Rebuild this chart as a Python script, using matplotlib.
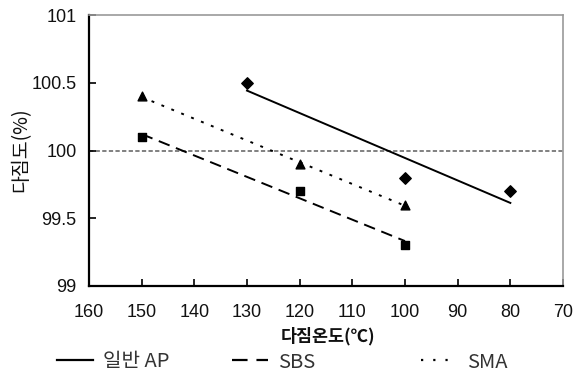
import numpy as np
import matplotlib
matplotlib.use("Agg")
import matplotlib.pyplot as plt
from matplotlib.lines import Line2D

plt.rcParams['font.family'] = ['Noto Sans CJK KR', 'DejaVu Sans']

# compaction temperature (°C) and degree of compaction (%)
ap_temp = [130, 100, 80]
ap_vals = [100.5, 99.8, 99.7]
sbs_temp = [150, 120, 100]
sbs_vals = [100.1, 99.7, 99.3]
sma_temp = [150, 120, 100]
sma_vals = [100.4, 99.9, 99.6]

series_names = ['일반 AP', 'SBS', 'SMA']
x_ticks = [160, 150, 140, 130, 120, 110, 100, 90, 80, 70]
y_ticks = [99, 99.5, 100, 100.5, 101]
y_tick_labels = ['99', '99.5', '100', '100.5', '101']

fig = plt.figure(figsize=(5.86, 3.76), dpi=100)
ax = fig.add_axes([89 / 586, 1 - 286 / 376, (563 - 89) / 586, (286 - 15) / 376])

ax.set_xlim(160, 70)
ax.set_ylim(99, 101)

ax.axhline(100, color='#808080', lw=1.4, ls=(0, (2.2, 1.2)), zorder=1)


def fit_line(xs, ys, style):
    k, b = np.polyfit(xs, ys, 1)
    xx = np.array([max(xs), min(xs)])
    ax.plot(xx, k * xx + b, color='black', lw=1.4, ls=style, zorder=2)


fit_line(ap_temp, ap_vals, '-')
fit_line(sbs_temp, sbs_vals, (0, (6, 3.5)))
fit_line(sma_temp, sma_vals, (0, (1.5, 4)))

ax.scatter(ap_temp, ap_vals, marker='D', s=34, color='black', zorder=3)
ax.scatter(sbs_temp, sbs_vals, marker='s', s=32, color='black', zorder=3)
ax.scatter(sma_temp, sma_vals, marker='^', s=40, color='black', zorder=3)

ax.set_xticks(x_ticks)
ax.set_xticklabels([str(t) for t in x_ticks])
ax.set_yticks(y_ticks)
ax.set_yticklabels(y_tick_labels)
ax.tick_params(axis='both', direction='in', length=5, width=1.2, labelsize=13, colors='black')
ax.tick_params(axis='x', pad=13)
ax.tick_params(axis='y', pad=9)
for lab in ax.get_xticklabels() + ax.get_yticklabels():
    lab.set_fontfamily(['Liberation Sans Narrow', 'Liberation Sans', 'DejaVu Sans'])
    lab.set_color('#111111')

for side in ['left', 'bottom']:
    ax.spines[side].set_color('black')
    ax.spines[side].set_linewidth(1.6)
for side in ['top', 'right']:
    ax.spines[side].set_color('#999999')
    ax.spines[side].set_linewidth(1.2)

fig.text(328 / 586, 1 - 336 / 376, '다짐온도(℃)', ha='center', va='center',
         fontsize=12.5, fontweight='bold', color='#111111')
fig.text(21 / 586, 1 - 150 / 376, '다짐도(%)', ha='center', va='center',
         rotation=90, fontsize=14, color='#111111')

handles = [
    Line2D([], [], color='black', lw=1.6, ls='-'),
    Line2D([], [], color='black', lw=1.6, ls=(0, (7, 4))),
    Line2D([], [], color='black', lw=1.6, ls=(0, (1, 4.5))),
]
legend_x = [57, 232, 421]
for h, name, lx in zip(handles, series_names, legend_x):
    leg = fig.legend([h], [name], loc='center left',
                     bbox_to_anchor=(lx / 586, 1 - 362 / 376),
                     frameon=False, prop={'size': 14.5, 'weight': 'light'},
                     handlelength=1.8, handletextpad=0.5, borderpad=0, borderaxespad=0)
    for t in leg.get_texts():
        t.set_color('#333333')

fig.savefig('out.png', dpi=100)
